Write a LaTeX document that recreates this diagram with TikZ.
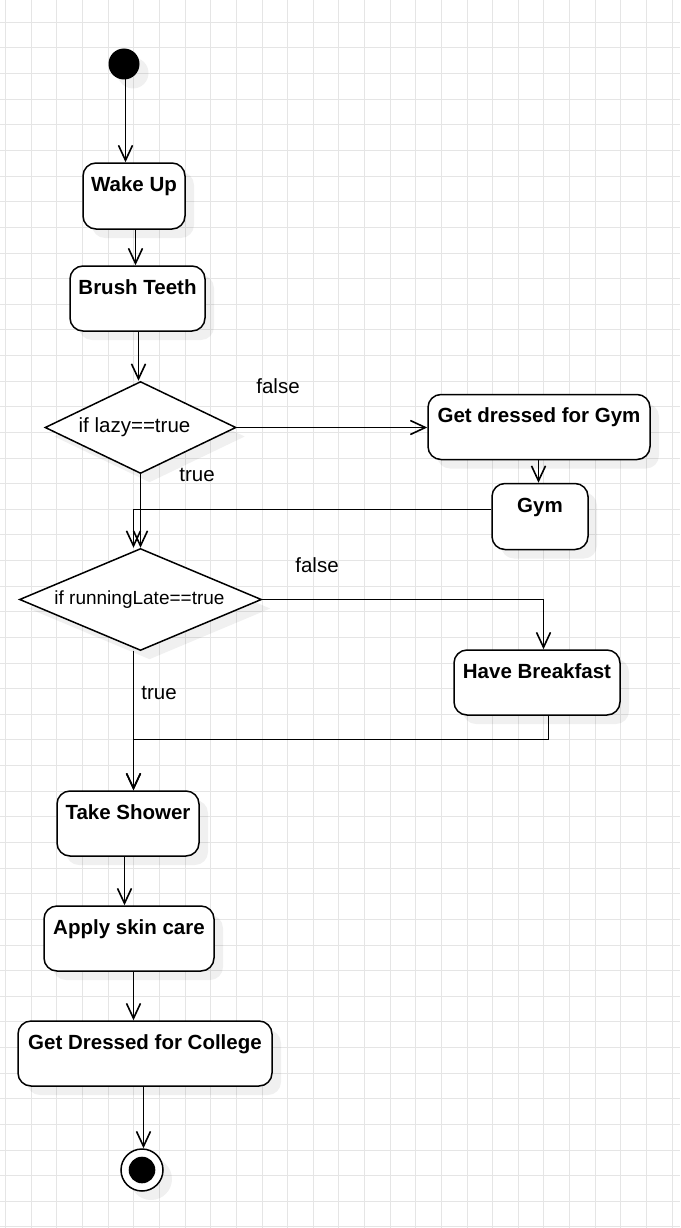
\documentclass[tikz,border=0pt]{standalone}
\usepackage{fontspec}
\setmainfont{Liberation Sans}
\usetikzlibrary{arrows.meta,shapes.geometric,shadows,calc}
\begin{document}
\begin{tikzpicture}[x=1pt,y=-1pt,
  gridc/.style={draw=gray!20, line width=0.9pt},
  shad/.style={drop shadow={shadow xshift=9pt, shadow yshift=-9pt, fill=black, opacity=0.06}},
  actbox/.style={draw, line width=1.5pt, rounded corners=13pt, fill=white, shad, inner sep=0pt,
    font=\fontsize{20.5}{24}\selectfont\bfseries, text height=15pt, text depth=24pt},
  decis/.style={diamond, draw, line width=1.5pt, fill=white, shad, inner sep=0pt,
    font=\fontsize{20.5}{24}\selectfont},
  lbl/.style={font=\fontsize{20.5}{24}\selectfont, inner sep=0pt},
  arr/.style={draw, line width=1.6pt, -{Straight Barb[length=15pt,width=14pt]}}
]
\fill[white] (0,0) rectangle (680,1228);
\useasboundingbox (0,0) rectangle (680,1228);
\foreach \i in {0,...,26} \draw[gridc] ({5.67+25.63*\i},0) -- ({5.67+25.63*\i},1228);
\foreach \j in {0,...,47} \draw[gridc] (0,{22.3+25.63*\j}) -- (680,{22.3+25.63*\j});

\node[circle, fill=black, minimum size=31pt, inner sep=0pt, shad] (start) at (124,64) {};
\node[actbox, minimum width=102pt, minimum height=66pt] (wake) at (134,196) {Wake Up};
\node[actbox, minimum width=135pt, minimum height=65pt] (brush) at (137.5,298.5) {Brush Teeth};
\node[decis, minimum width=191pt, minimum height=92pt, aspect=2.08] (d1) at (140.5,427.5) {if lazy==true\hspace*{12pt}};
\node[actbox, minimum width=222pt, minimum height=65pt] (gymdress) at (539,427) {Get dressed for Gym};
\node[actbox, minimum width=96pt, minimum height=66pt] (gym) at (540,516.5) {Gym};
\node[decis, minimum width=242pt, minimum height=102pt, aspect=2.37, font=\fontsize{19}{22}\selectfont] (d2) at (140.5,599.5) {if runningLate==true\hspace*{2pt}};
\node[actbox, minimum width=166pt, minimum height=65pt] (breakfast) at (537,682.5) {Have Breakfast};
\node[actbox, minimum width=142pt, minimum height=65pt] (shower) at (128,823.5) {Take Shower};
\node[actbox, minimum width=170pt, minimum height=65pt] (skin) at (129,938.5) {Apply skin care};
\node[actbox, minimum width=254pt, minimum height=65pt] (college) at (145,1053.5) {Get Dressed for College};
\node[circle, draw, line width=1.5pt, fill=white, minimum size=42pt, inner sep=0pt, shad] (end) at (142,1170) {};
\fill (end.center) circle[radius=13.3];

\node[lbl] (lf1) at (278,386) {false};
\node[lbl] (lt1) at (197,475) {true};
\node[lbl] (lf2) at (317,565) {false};
\node[lbl] (lt2) at (159,693) {true};

\coordinate (m2) at (133.5,739.5);

\draw[arr] ([xshift=1.5pt]start.center) -- ([xshift=1.5pt]start.center |- wake.north);
\draw[arr] ([xshift=1.5pt]wake.south) -- ([xshift=1.5pt]wake.south |- brush.north);
\draw[arr] ([xshift=1pt]brush.south) -- ([xshift=1pt]brush.south |- d1.north);
\draw[arr] (d1.east) -- (d1.east -| gymdress.west);
\draw[arr] ([xshift=-0.5pt]gymdress.south) -- ([xshift=-0.5pt]gymdress.south |- gym.north);
\draw[arr] ([yshift=7pt]gym.west) -| ([xshift=-7pt]d2.north);
\draw[arr] (d1.south) -- (d2.north);
\draw[arr] (d2.east) -| ([xshift=6.5pt]breakfast.north);
\draw[arr] ([xshift=-7pt]d2.south) -- ([xshift=-7pt]d2.south |- shower.north);
\draw[arr] ([xshift=11.5pt]breakfast.south) |- (m2) -- (m2 |- shower.north);
\draw[arr] ([xshift=-3.5pt]shower.south) -- ([xshift=-3.5pt]shower.south |- skin.north);
\draw[arr] ([xshift=4.5pt]skin.south) -- ([xshift=4.5pt]skin.south |- college.north);
\draw[arr] ([xshift=1.5pt]college.south -| end) -- ([xshift=1.5pt]end.north);
\end{tikzpicture}
\end{document}
